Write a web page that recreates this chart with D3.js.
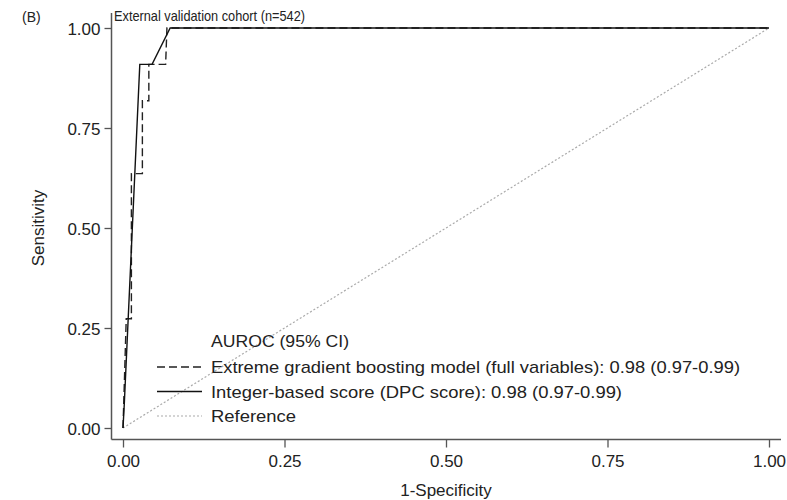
<!DOCTYPE html>
<html>
<head>
<meta charset="utf-8">
<script src="https://cdn.jsdelivr.net/npm/d3@7"></script>
<style>
  body { margin: 0; background: #fff; }
  svg text { font-family: "Liberation Sans", Arial, sans-serif; fill: #222; }
</style>
</head>
<body>
<div id="roc-chart"></div>
<script>
// ROC points (1-specificity, sensitivity)
var xgbFpr = [0, 0.005, 0.013, 0.013, 0.030, 0.030, 0.040, 0.040, 0.066, 0.068, 1];
var xgbTpr = [0, 0.273, 0.273, 0.636, 0.636, 0.818, 0.818, 0.909, 0.909, 1.0, 1];
var dpcFpr = [0, 0.002, 0.026, 0.045, 0.073, 1];
var dpcTpr = [0, 0.06, 0.909, 0.909, 1.0, 1];
var refFpr = [0, 1];
var refTpr = [0, 1];

var tickValues = [0, 0.25, 0.5, 0.75, 1];
var legendTitle = "AUROC (95% CI)";
var legendLabels = [
  "Extreme gradient boosting model (full variables): 0.98 (0.97-0.99)",
  "Integer-based score (DPC score): 0.98 (0.97-0.99)",
  "Reference"
];

var w = 787;
var h = 500;

var xScale = d3.scaleLinear().domain([0, 1]).range([123, 769]);
var yScale = d3.scaleLinear().domain([0, 1]).range([428, 28]);

var svg = d3.select("#roc-chart")
            .append("svg")
            .attr("width", w)
            .attr("height", h);

function toPoints(xs, ys) {
  return xs.map(function(d, i) { return [d, ys[i]]; });
}

var line = d3.line()
             .x(function(d) { return xScale(d[0]); })
             .y(function(d) { return yScale(d[1]); });

// axes, offset from the plot area like the original
var xAxis = d3.axisBottom(xScale).tickValues(tickValues).tickFormat(d3.format(".2f")).tickSize(8).tickPadding(7);
var yAxis = d3.axisLeft(yScale).tickValues(tickValues).tickFormat(d3.format(".2f")).tickSize(7).tickPadding(4);

var gx = svg.append("g")
            .attr("transform", "translate(0,439.5)")
            .call(xAxis);
var gy = svg.append("g")
            .attr("transform", "translate(111.5,0)")
            .call(yAxis);

[gx, gy].forEach(function(g) {
  g.select(".domain").remove();
  g.selectAll(".tick line").attr("stroke", "#555").attr("stroke-width", 1.3);
  g.selectAll(".tick text").style("font-size", "17px").attr("fill", "#222");
});
gy.selectAll(".tick text").attr("dy", "0.36em");

svg.append("line")
   .attr("x1", 111.5).attr("x2", 781)
   .attr("y1", 439.5).attr("y2", 439.5)
   .attr("stroke", "#555").attr("stroke-width", 1.5);
svg.append("line")
   .attr("x1", 111.5).attr("x2", 111.5)
   .attr("y1", 13).attr("y2", 439.5)
   .attr("stroke", "#555").attr("stroke-width", 1.5);

// curves
svg.append("path")
   .datum(toPoints(refFpr, refTpr))
   .attr("d", line)
   .attr("fill", "none")
   .attr("stroke", "#aaa")
   .attr("stroke-width", 1.2)
   .attr("stroke-dasharray", "2,2");

svg.append("path")
   .datum(toPoints(xgbFpr, xgbTpr))
   .attr("d", line)
   .attr("fill", "none")
   .attr("stroke", "#222")
   .attr("stroke-width", 1.4)
   .attr("stroke-dasharray", "8,4");

svg.append("path")
   .datum(toPoints(dpcFpr, dpcTpr))
   .attr("d", line)
   .attr("fill", "none")
   .attr("stroke", "#111")
   .attr("stroke-width", 1.4);

// titles
svg.append("text").text("(B)")
   .attr("x", 22).attr("y", 22)
   .style("font-size", "14px");
svg.append("text").text("External validation cohort (n=542)")
   .attr("x", 114).attr("y", 21)
   .attr("textLength", 191).attr("lengthAdjust", "spacingAndGlyphs")
   .style("font-size", "14.5px");
svg.append("text").text("Sensitivity")
   .attr("transform", "translate(44,228) rotate(-90)")
   .attr("text-anchor", "middle")
   .style("font-size", "17px");
svg.append("text").text("1-Specificity")
   .attr("x", 446).attr("y", 496)
   .attr("text-anchor", "middle")
   .style("font-size", "17px");

// legend
var styles = [
  { stroke: "#222", dash: "8,4", width: 1.4, len: 529 },
  { stroke: "#111", dash: null, width: 1.4, len: 411 },
  { stroke: "#aaa", dash: "2,2", width: 1.2, len: 85 }
];

svg.append("text").text(legendTitle)
   .attr("x", 211).attr("y", 347)
   .attr("textLength", 138).attr("lengthAdjust", "spacingAndGlyphs")
   .style("font-size", "17px");

var items = svg.selectAll(".legend-item")
               .data(legendLabels)
               .enter()
               .append("g")
               .attr("class", "legend-item")
               .attr("transform", function(d, i) {
                 return "translate(0," + (367 + i * 24.5) + ")";
               });

items.append("line")
     .attr("x1", 157).attr("x2", 202)
     .attr("y1", 0).attr("y2", 0)
     .attr("stroke", function(d, i) { return styles[i].stroke; })
     .attr("stroke-width", function(d, i) { return styles[i].width; })
     .attr("stroke-dasharray", function(d, i) { return styles[i].dash; });

items.append("text")
     .text(function(d) { return d; })
     .attr("x", 211)
     .attr("y", 6)
     .attr("textLength", function(d, i) { return styles[i].len; })
     .attr("lengthAdjust", "spacingAndGlyphs")
     .style("font-size", "17px");
</script>
</body>
</html>
